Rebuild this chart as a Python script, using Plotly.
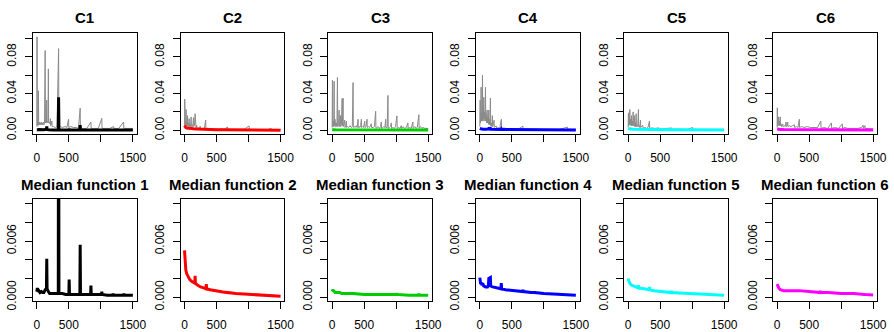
import plotly.graph_objects as go

# ---------------- data ----------------
titles_top = ["C1", "C2", "C3", "C4", "C5", "C6"]
titles_bottom = ["Median function 1", "Median function 2", "Median function 3",
                 "Median function 4", "Median function 5", "Median function 6"]
colors = ["#000000", "#FF0000", "#00CD00", "#0000FF", "#00FFFF", "#FF00FF"]

x_tickvals = [0, 500, 1000, 1500]
x_ticktext = ["0", "500", "", "1500"]
ytop_tickvals = [0, 0.02, 0.04, 0.06, 0.08, 0.10]
ytop_ticktext = ["0.00", "", "0.04", "", "0.08", ""]
ybot_tickvals = [0, 0.002, 0.004, 0.006, 0.008, 0.010]
ybot_ticktext = ["0.000", "", "", "0.006", "", ""]

# gray member curves (x, value)
c1_gray = [(0,0.004),(3,0.102),(7,0.006),(12,0.009),(18,0.005),(25,0.043),(29,0.006),(36,0.009),
           (44,0.006),(52,0.008),(60,0.006),(68,0.009),(76,0.006),(85,0.008),(94,0.006),(103,0.009),
           (112,0.006),(120,0.009),(130,0.087),(134,0.008),(142,0.010),(150,0.008),(155,0.033),
           (159,0.008),(168,0.010),(175,0.009),(180,0.067),(184,0.008),(195,0.009),(205,0.007),
           (212,0.0127),(216,0.005),(228,0.006),(235,0.010),(239,0.004),(260,0.004),(290,0.003),
           (315,0.004),(340,0.089),(344,0.003),(370,0.004),(400,0.003),(440,0.004),(470,0.003),
           (495,0.012),(499,0.003),(530,0.004),(570,0.003),(620,0.003),(650,0.002),(677,0.024),
           (681,0.002),(720,0.002),(780,0.002),(845,0.009),(849,0.002),(900,0.002),(960,0.002),
           (1015,0.013),(1019,0.002),(1080,0.002),(1140,0.002),(1200,0.004),(1204,0.002),
           (1280,0.002),(1355,0.009),(1359,0.002),(1430,0.002),(1500,0.002)]
c2_gray = [(0,0.004),(3,0.034),(6,0.006),(12,0.010),(18,0.005),(25,0.0226),(29,0.005),(35,0.009),
           (42,0.004),(47,0.016),(51,0.005),(58,0.008),(65,0.004),(72,0.0127),(76,0.004),(85,0.007),
           (95,0.004),(103,0.0145),(107,0.004),(118,0.006),(128,0.004),(140,0.0138),(144,0.004),
           (155,0.005),(165,0.018),(169,0.003),(180,0.003),(190,0.0055),(194,0.002),(215,0.003),
           (230,0.002),(245,0.0044),(249,0.002),(280,0.002),(310,0.002),(330,0.011),(334,0.0015),
           (400,0.0015),(480,0.0012),(560,0.0012),(620,0.001),(672,0.0036),(676,0.001),(760,0.001),
           (850,0.001),(930,0.001),(1008,0.0047),(1012,0.0008),(1100,0.0008),(1200,0.0008),
           (1300,0.0008),(1355,0.002),(1360,0.0008),(1430,0.0008),(1500,0.0008)]
c3_gray = [(0,0.003),(5,0.0546),(9,0.004),(18,0.010),(26,0.004),(31,0.0535),(35,0.005),(45,0.012),
           (55,0.004),(65,0.008),(75,0.004),(83,0.0575),(87,0.004),(100,0.006),(109,0.022),(113,0.004),
           (120,0.006),(130,0.016),(134,0.004),(145,0.006),(156,0.0346),(160,0.005),(171,0.035),
           (175,0.004),(185,0.006),(197,0.011),(201,0.003),(212,0.005),(223,0.010),(227,0.003),
           (240,0.004),(260,0.003),(280,0.005),(300,0.003),(315,0.004),(327,0.052),(331,0.003),
           (345,0.004),(360,0.003),(375,0.005),(390,0.003),(405,0.012),(409,0.003),(420,0.004),
           (435,0.003),(445,0.005),(457,0.012),(461,0.003),(475,0.004),(490,0.003),(509,0.010),
           (513,0.003),(530,0.004),(545,0.012),(549,0.003),(565,0.004),(585,0.003),(600,0.005),
           (612,0.007),(616,0.003),(640,0.003),(660,0.004),(680,0.0207),(684,0.002),(700,0.003),
           (720,0.004),(740,0.002),(755,0.004),(768,0.009),(772,0.002),(790,0.003),(810,0.004),
           (825,0.003),(836,0.012),(840,0.003),(860,0.003),(872,0.038),(876,0.002),(895,0.003),
           (910,0.004),(924,0.008),(928,0.002),(950,0.003),(970,0.002),(990,0.004),(1012,0.0157),
           (1016,0.002),(1040,0.003),(1060,0.002),(1080,0.005),(1084,0.002),(1110,0.004),
           (1130,0.002),(1160,0.003),(1183,0.008),(1187,0.002),(1210,0.003),(1235,0.002),
           (1261,0.009),(1265,0.002),(1290,0.004),(1310,0.002),(1330,0.003),(1355,0.017),
           (1359,0.002),(1380,0.004),(1400,0.002),(1420,0.003),(1450,0.002),(1500,0.002)]
c4_gray = [(0,0.004),(5,0.033),(9,0.008),(15,0.015),(20,0.047),(24,0.010),(30,0.020),(36,0.012),
           (41,0.060),(45,0.010),(52,0.025),(57,0.012),(62,0.036),(66,0.010),(75,0.020),(82,0.012),
           (88,0.047),(92,0.010),(100,0.018),(107,0.008),(114,0.022),(118,0.008),(128,0.015),
           (134,0.007),(140,0.022),(144,0.006),(152,0.012),(158,0.006),(165,0.035),(169,0.005),
           (180,0.008),(188,0.004),(196,0.016),(200,0.004),(210,0.006),(222,0.011),(226,0.003),
           (240,0.004),(258,0.0045),(262,0.002),(290,0.003),(310,0.002),(336,0.012),(340,0.002),
           (370,0.0025),(410,0.002),(470,0.0015),(540,0.0015),(600,0.0012),(672,0.0045),(676,0.001),
           (760,0.001),(850,0.0012),(950,0.001),(1050,0.001),(1150,0.001),(1250,0.001),
           (1370,0.0035),(1374,0.001),(1450,0.001),(1500,0.001)]
c5_gray = [(0,0.003),(5,0.019),(9,0.005),(15,0.012),(21,0.006),(26,0.0226),(30,0.006),(38,0.012),
           (45,0.005),(52,0.016),(56,0.005),(65,0.010),(72,0.005),(78,0.020),(82,0.005),(90,0.008),
           (99,0.016),(103,0.004),(112,0.008),(118,0.004),(125,0.018),(129,0.004),(140,0.006),
           (150,0.004),(161,0.0226),(165,0.004),(175,0.005),(182,0.003),(193,0.011),(197,0.003),
           (210,0.004),(229,0.0055),(233,0.002),(260,0.003),(290,0.002),(310,0.003),(333,0.010),
           (337,0.002),(370,0.0025),(420,0.002),(470,0.0025),(520,0.0015),(600,0.002),(680,0.0025),
           (684,0.0012),(760,0.0012),(850,0.0012),(930,0.001),(1010,0.003),(1014,0.001),
           (1100,0.001),(1200,0.001),(1300,0.001),(1400,0.001),(1500,0.001)]
c6_gray = [(0,0.003),(3,0.0244),(7,0.005),(14,0.012),(21,0.0146),(25,0.005),(35,0.010),(41,0.005),
           (47,0.0146),(51,0.005),(60,0.007),(70,0.004),(80,0.006),(88,0.007),(92,0.004),(110,0.005),
           (125,0.004),(140,0.009),(144,0.004),(155,0.005),(165,0.009),(169,0.004),(190,0.005),
           (215,0.004),(240,0.005),(269,0.006),(273,0.003),(300,0.004),(325,0.003),(346,0.012),
           (350,0.003),(380,0.004),(420,0.003),(470,0.004),(520,0.003),(580,0.003),(630,0.003),
           (682,0.010),(686,0.002),(730,0.003),(790,0.002),(848,0.008),(852,0.002),(900,0.003),
           (960,0.002),(1018,0.007),(1022,0.002),(1060,0.003),(1100,0.002),(1180,0.002),
           (1260,0.002),(1320,0.003),(1344,0.0055),(1348,0.002),(1372,0.005),(1376,0.002),
           (1430,0.002),(1500,0.0015)]

# median functions (x, value)
median1 = [(0,0.0006),(8,0.0010),(15,0.0006),(30,0.0007),(50,0.0005),(70,0.0006),(90,0.0005),
           (110,0.0005),(130,0.0008),(150,0.0009),(155,0.0041),(160,0.0009),(180,0.0006),
           (200,0.0004),(260,0.0004),(300,0.0004),(335,0.0004),(340,0.036),(345,0.0004),
           (400,0.0004),(450,0.0003),(500,0.0003),(505,0.0019),(510,0.0003),(600,0.0003),
           (672,0.0003),(677,0.0056),(682,0.0003),(760,0.0003),(840,0.0003),(845,0.00125),
           (850,0.0003),(930,0.0003),(1010,0.0003),(1015,0.0006),(1020,0.0003),(1100,0.0002),
           (1185,0.0002),(1190,0.0004),(1195,0.0002),(1280,0.0002),(1355,0.0002),(1360,0.0004),
           (1365,0.0002),(1430,0.0002),(1500,0.0002)]
median2 = [(0,0.0050),(5,0.0040),(10,0.0034),(20,0.0029),(35,0.0025),(55,0.0022),(80,0.0019),
           (110,0.0017),(140,0.0016),(160,0.0015),(165,0.0023),(170,0.0015),(200,0.0013),
           (250,0.0011),(300,0.0010),(335,0.0009),(340,0.0014),(345,0.0009),(400,0.0008),
           (500,0.00065),(600,0.00055),(670,0.0005),(675,0.0006),(680,0.0005),(800,0.0004),
           (1000,0.0003),(1200,0.0002),(1350,0.00015),(1500,0.0001)]
median3 = [(0,0.0006),(10,0.0008),(20,0.0007),(30,0.0006),(50,0.0005),(80,0.0005),(120,0.0005),
           (150,0.0004),(200,0.0004),(300,0.0004),(330,0.0004),(335,0.0005),(340,0.0004),
           (500,0.0003),(675,0.0003),(680,0.0004),(685,0.0003),(1000,0.0003),(1010,0.0004),
           (1015,0.0003),(1200,0.0002),(1350,0.0002),(1355,0.0004),(1360,0.0002),(1500,0.0002)]
median4 = [(0,0.0021),(5,0.0017),(12,0.0014),(20,0.0016),(30,0.0013),(45,0.0015),(60,0.0012),
           (90,0.0011),(120,0.0011),(135,0.0013),(140,0.0020),(165,0.0021),(170,0.0012),
           (200,0.0011),(250,0.0010),(330,0.0009),(335,0.0015),(340,0.0009),(400,0.0008),
           (500,0.0007),(670,0.0006),(675,0.0008),(680,0.0006),(800,0.0005),(850,0.0005),
           (855,0.0006),(860,0.0005),(1000,0.0004),(1200,0.0003),(1500,0.0002)]
median5 = [(0,0.0020),(10,0.0017),(25,0.0015),(50,0.0013),(80,0.0012),(120,0.0011),(155,0.0010),
           (160,0.0013),(165,0.0010),(250,0.0009),(330,0.0008),(335,0.0011),(340,0.0008),
           (400,0.0007),(500,0.00065),(670,0.0005),(675,0.0007),(680,0.0005),(800,0.00045),
           (1000,0.0004),(1200,0.0003),(1500,0.0002)]
median6 = [(0,0.0014),(10,0.0012),(25,0.0010),(50,0.0008),(100,0.0007),(200,0.0007),(340,0.0007),
           (345,0.0008),(350,0.0007),(500,0.0006),(670,0.0005),(675,0.0007),(680,0.0005),
           (800,0.0005),(1000,0.0004),(1200,0.0004),(1350,0.0003),(1355,0.0004),(1360,0.0003),
           (1500,0.00025)]

grays = [c1_gray, c2_gray, c3_gray, c4_gray, c5_gray, c6_gray]
medians = [median1, median2, median3, median4, median5, median6]

# ---------------- layout ----------------
W, H = 894, 332
box_left = [33, 180.7, 328.3, 476, 624.3, 773.3]
box_w = 103.7
top_box = (33, 134)
bot_box = (199, 301)

FONT = "Liberation Sans, Arial, Helvetica, sans-serif"
fig = go.Figure()
layout = dict(width=W, height=H, margin=dict(l=0, r=0, t=0, b=0, autoexpand=False),
              paper_bgcolor="white", plot_bgcolor="white", showlegend=False,
              font=dict(family=FONT, color="black"))
annotations = []

def axis_common():
    return dict(showline=True, mirror=True, linecolor="black", linewidth=1,
                ticks="outside", ticklen=7, tickwidth=1, tickcolor="black", automargin=False,
                showgrid=False, zeroline=False, tickfont=dict(size=12, family=FONT, color="black"))

idx = 0
for row in range(2):
    y0, y1 = top_box if row == 0 else bot_box
    ydom = [1 - y1 / H, 1 - y0 / H]
    for k in range(6):
        idx += 1
        xa = "xaxis" if idx == 1 else f"xaxis{idx}"
        ya = "yaxis" if idx == 1 else f"yaxis{idx}"
        xr = "x" if idx == 1 else f"x{idx}"
        yr = "y" if idx == 1 else f"y{idx}"
        xl = box_left[k]
        xdom = [xl / W, (xl + box_w) / W]
        ax = axis_common()
        ax.update(domain=xdom, range=[-60, 1560], tickvals=x_tickvals, ticktext=x_ticktext,
                  anchor=yr, ticklabelstandoff=6)
        layout[xa] = ax
        ay = axis_common()
        if row == 0:
            ay.update(range=[-0.00408, 0.10608], tickvals=ytop_tickvals, ticktext=ytop_ticktext)
        else:
            ay.update(range=[-0.000404, 0.0105], tickvals=ybot_tickvals, ticktext=ybot_ticktext)
        ay.update(domain=ydom, anchor=xr, tickangle=-90, ticklabelstandoff=4)
        layout[ya] = ay

        med = medians[k]
        if row == 0:
            g = grays[k]
            fig.add_trace(go.Scatter(x=[p[0] for p in g], y=[p[1] for p in g], mode="lines",
                                     line=dict(color="rgb(138,138,138)", width=1),
                                     xaxis=xr, yaxis=yr, hoverinfo="skip"))
        fig.add_trace(go.Scatter(x=[p[0] for p in med], y=[p[1] for p in med], mode="lines",
                                 line=dict(color=colors[k], width=3),
                                 xaxis=xr, yaxis=yr, hoverinfo="skip"))

        title = titles_top[k] if row == 0 else titles_bottom[k]
        ty = 17.5 if row == 0 else 184.5
        annotations.append(dict(text=f"<b>{title}</b>", x=(xl + box_w / 2) / W, y=1 - ty / H,
                                xref="paper", yref="paper", xanchor="center", yanchor="middle",
                                showarrow=False, font=dict(size=15, family=FONT, color="black")))

layout["annotations"] = annotations
fig.update_layout(**layout)
fig.write_html("out.html", config={"displayModeBar": False},
               post_script="document.body.style.margin='0';document.body.style.overflow='hidden';")
